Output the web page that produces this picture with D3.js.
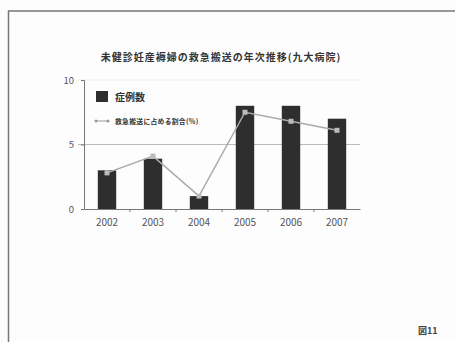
<!DOCTYPE html>
<html><head><meta charset="utf-8">
<script src="https://cdn.jsdelivr.net/npm/d3@7"></script>
<style>body{margin:0;background:#fff}svg{display:block}</style>
</head><body>
<script>
const years = ["2002","2003","2004","2005","2006","2007"];
const cases = [3, 3.9, 1, 8, 8, 7];
const ratio = [2.8, 4.1, 1.0, 7.5, 6.8, 6.1];
const yTicks = [0, 5, 10];
const title = "未健診妊産褥婦の救急搬送の年次推移(九大病院)";
const legendBar = "症例数";
const legendLine = "救急搬送に占める割合(%)";
const figLabel = "図11";

const W = 455, H = 342;
const svg = d3.select("body").append("svg").attr("width", W).attr("height", H);
svg.append("rect").attr("width", W).attr("height", H).attr("fill", "#fdfdfd");
// frame
svg.append("rect").attr("x", 8.5).attr("y", 11).attr("width", 460).attr("height", 340)
  .attr("fill", "none").attr("stroke", "#777").attr("stroke-width", 1.5);

const font = "'Noto Sans CJK JP', sans-serif";
const x = d3.scaleBand().domain(years).range([84, 360]).paddingInner(0.6).paddingOuter(0.3);
const y = d3.scaleLinear().domain([0, 10]).range([209, 80]);

// gridlines
svg.append("g").selectAll("line").data([5, 10]).join("line")
  .attr("x1", 78).attr("x2", 360).attr("y1", d => y(d)).attr("y2", d => y(d))
  .attr("stroke", d => d === 5 ? "#bbb" : "#eee").attr("stroke-width", 1);

// bars
svg.append("g").selectAll("rect").data(years).join("rect")
  .attr("x", d => x(d)).attr("width", x.bandwidth())
  .attr("y", (d, i) => y(cases[i])).attr("height", (d, i) => y(0) - y(cases[i]))
  .attr("fill", "#2e2e2e");

// axes
const yAxis = d3.axisLeft(y).tickValues(yTicks).tickSize(3).tickPadding(7);
const gy = svg.append("g").attr("transform", "translate(84,0)").call(yAxis);
gy.selectAll("text").attr("font-family", font).attr("font-size", 9.5).attr("fill", "#555");
gy.selectAll("line,path").attr("stroke", "#777");

const xAxis = d3.axisBottom(x).tickSize(0).tickPadding(10);
const gx = svg.append("g").attr("transform", "translate(0,209)").call(xAxis);
gx.selectAll("text").attr("font-family", font).attr("font-size", 10).attr("fill", "#555");
gx.select("path").attr("stroke", "#777");
// minor ticks between categories
gx.append("g").selectAll("line").data(years.slice(1)).join("line")
  .attr("x1", d => x(d) - x.step() * 0.3).attr("x2", d => x(d) - x.step() * 0.3)
  .attr("y1", 0).attr("y2", 3).attr("stroke", "#777");

// line
const cx = d => x(d) + x.bandwidth() / 2;
const line = d3.line().x((d, i) => cx(years[i])).y(d => y(d));
svg.append("path").datum(ratio).attr("d", line)
  .attr("fill", "none").attr("stroke", "#aaa").attr("stroke-width", 1.5);
svg.append("g").selectAll("rect").data(ratio).join("rect")
  .attr("x", (d, i) => cx(years[i]) - 2.5).attr("y", d => y(d) - 2.5)
  .attr("width", 5).attr("height", 5).attr("fill", "#bbb");

// title
svg.append("text").attr("x", 221).attr("y", 61).attr("text-anchor", "middle")
  .attr("font-family", font).attr("font-size", 10).attr("letter-spacing", 1)
  .attr("font-weight", "bold").attr("fill", "#333").text(title);

// legend
svg.append("rect").attr("x", 96).attr("y", 91).attr("width", 12).attr("height", 11).attr("fill", "#2e2e2e");
svg.append("text").attr("x", 115).attr("y", 101).attr("font-family", font).attr("font-size", 10)
  .attr("font-weight", "bold").attr("fill", "#333").text(legendBar);
svg.append("line").attr("x1", 95).attr("x2", 109).attr("y1", 121).attr("y2", 121)
  .attr("stroke", "#999").attr("stroke-width", 1);
svg.append("circle").attr("cx", 96).attr("cy", 121).attr("r", 1.5).attr("fill", "#999");
svg.append("circle").attr("cx", 108).attr("cy", 121).attr("r", 1.5).attr("fill", "#999");
svg.append("text").attr("x", 115).attr("y", 123.5).attr("font-family", font).attr("font-size", 6.8)
  .attr("letter-spacing", 0.3).attr("font-weight", "bold").attr("fill", "#333").text(legendLine);

// figure label
svg.append("text").attr("x", 418).attr("y", 334).attr("font-family", font).attr("font-size", 9)
  .attr("font-weight", "bold").attr("fill", "#444").text(figLabel);
</script>
</body></html>
